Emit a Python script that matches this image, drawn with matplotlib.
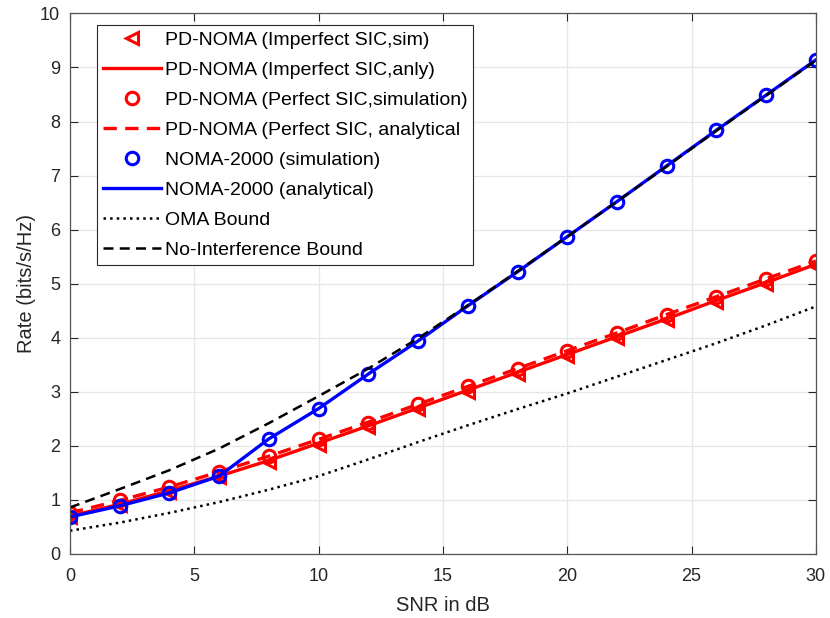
import matplotlib.pyplot as plt
import numpy as np

plt.rcParams['font.family'] = ['Liberation Sans', 'DejaVu Sans']

snr_db = np.arange(0, 31, 2)

# PD-NOMA, imperfect SIC
pd_imp_sim = [0.68, 0.90, 1.15, 1.42, 1.70, 2.02, 2.35, 2.68, 3.00, 3.33, 3.66, 4.00, 4.33, 4.67, 5.00, 5.33]
pd_imp_anly = [0.70, 0.92, 1.17, 1.44, 1.73, 2.05, 2.37, 2.70, 3.03, 3.36, 3.69, 4.02, 4.35, 4.69, 5.02, 5.36]
# PD-NOMA, perfect SIC
pd_perf_sim = [0.76, 0.99, 1.24, 1.52, 1.81, 2.13, 2.43, 2.77, 3.10, 3.42, 3.75, 4.08, 4.42, 4.75, 5.08, 5.42]
pd_perf_anly = [0.76, 0.99, 1.24, 1.52, 1.81, 2.12, 2.44, 2.77, 3.10, 3.43, 3.76, 4.09, 4.43, 4.76, 5.09, 5.42]
# NOMA-2000
noma2000_sim = [0.685, 0.89, 1.13, 1.44, 2.13, 2.69, 3.33, 3.94, 4.59, 5.22, 5.87, 6.52, 7.18, 7.84, 8.49, 9.14]
noma2000_anly = noma2000_sim
# bounds
oma_bound = [0.43, 0.58, 0.76, 0.96, 1.19, 1.44, 1.75, 2.07, 2.38, 2.68, 2.97, 3.28, 3.59, 3.90, 4.23, 4.58]
no_intf_bound = [0.86, 1.20, 1.55, 1.95, 2.42, 2.92, 3.43, 3.99, 4.60, 5.23, 5.87, 6.52, 7.17, 7.83, 8.48, 9.13]

fig = plt.figure(figsize=(8.3, 6.18), dpi=100)
ax = fig.add_axes([0.0843, 0.1036, 0.8987, 0.8747])

ax.plot(snr_db, pd_imp_sim, '<', color='r', mfc='none', mew=2.2, ms=9, label='PD-NOMA (Imperfect SIC,sim)')
ax.plot(snr_db, pd_imp_anly, '-', color='r', lw=2.4, label='PD-NOMA (Imperfect SIC,anly)')
ax.plot(snr_db, pd_perf_sim, 'o', color='r', mfc='none', mew=2.2, ms=9, label='PD-NOMA (Perfect SIC,simulation)')
ax.plot(snr_db, pd_perf_anly, '--', color='r', lw=2.4, dashes=(4, 2.5), label='PD-NOMA (Perfect SIC, analytical')
ax.plot(snr_db, noma2000_sim, 'o', color='b', mfc='none', mew=2.2, ms=9, label='NOMA-2000 (simulation)')
ax.plot(snr_db, noma2000_anly, '-', color='b', lw=2.4, label='NOMA-2000 (analytical)')
ax.plot(snr_db, oma_bound, ':', color='k', lw=1.8, label='OMA Bound')
ax.plot(snr_db, no_intf_bound, '--', color='k', lw=1.8, dashes=(4, 2.5), label='No-Interference Bound')

ax.set_xlim(0, 30)
ax.set_ylim(0, 10)
ax.set_xticks(np.arange(0, 31, 5))
ax.set_yticks(np.arange(0, 11, 1))
ax.grid(True, color='#e6e6e6', lw=0.9)
ax.set_axisbelow(True)
ax.tick_params(direction='in', top=True, right=True, labelsize=13, colors='#262626',
               length=6, pad=7)
ax.tick_params(axis='x', pad=10)
for s in ax.spines.values():
    s.set_color('#555555')
    s.set_linewidth(0.9)

ax.set_xlabel('SNR in dB', fontsize=14.5, color='#262626', labelpad=8)
ax.set_ylabel('Rate (bits/s/Hz)', fontsize=14.5, color='#262626', labelpad=3)

leg = ax.legend(loc='upper left', bbox_to_anchor=(0.036, 0.978), borderaxespad=0,
                fontsize=14, handlelength=3.0, labelspacing=0.64, handletextpad=0.2,
                borderpad=0.3, fancybox=False, framealpha=1, edgecolor='#262626')
leg.get_frame().set_linewidth(0.8)

fig.savefig('out.png', dpi=100)
